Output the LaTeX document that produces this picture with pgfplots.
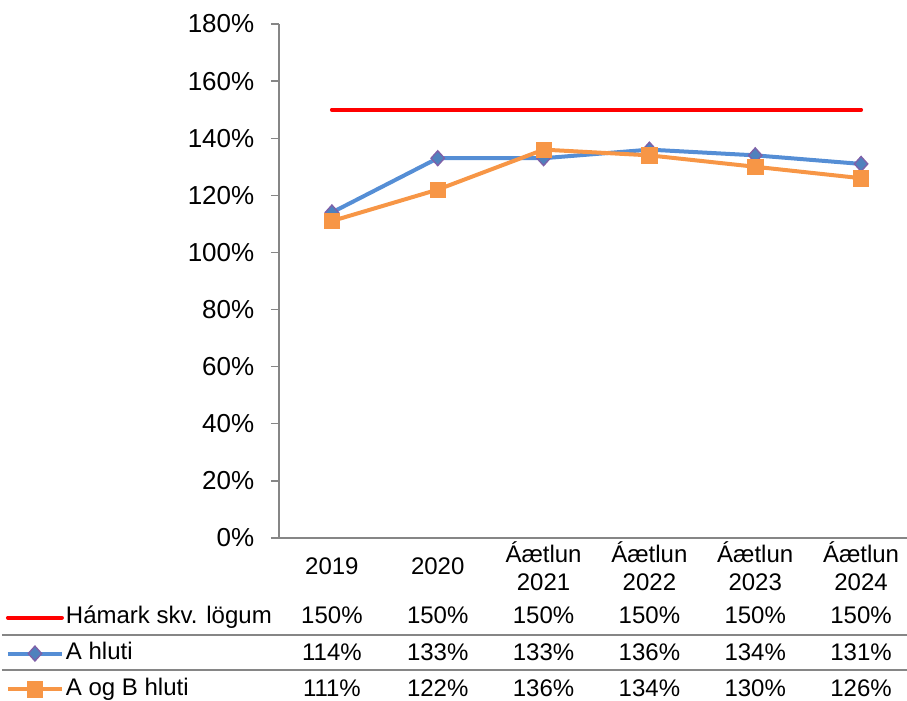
\documentclass[border=0pt]{standalone}
\usepackage{pgfplots}
\pgfplotsset{compat=1.18}
\usepackage{pgfplotstable}
\usepackage{fontspec}
\setmainfont{Liberation Sans}
\definecolor{cred}{HTML}{FF0000}
\definecolor{cblue}{HTML}{558ED5}
\definecolor{cbluefill}{HTML}{4F81BD}
\definecolor{cpurple}{HTML}{7F60A8}
\definecolor{corange}{HTML}{F79646}
\definecolor{caxis}{HTML}{868686}

\pgfplotstableread{
x hamark ahluti aogb
0 150 114 111
1 150 133 122
2 150 133 136
3 150 136 134
4 150 134 130
5 150 131 126
}\data

\newcommand{\chfont}{\fontsize{18pt}{21pt}\selectfont}
\newcommand{\yfont}{\fontsize{19.5pt}{22pt}\selectfont}

\begin{document}
\begin{tikzpicture}
\begin{axis}[
 name=ax, at={(0,0)}, anchor=south west,
 scale only axis, width=476.25pt, height=385.5pt,
 xmin=-0.5, xmax=5.5, ymin=0, ymax=180,
 axis x line*=bottom, axis y line*=left,
 axis line style={caxis, line width=1pt, -},
 clip=false,
 ytick={0,20,...,180},
 yticklabel={\pgfmathprintnumber[fixed,precision=0]{\tick}\%},
 /pgf/number format/assume math mode=true,
 tick align=outside, major tick length=6pt,
 ytick style={caxis, line width=1pt},
 xtick={0,...,5},
 xticklabels={2019,2020,Áætlun\\2021,Áætlun\\2022,Áætlun\\2023,Áætlun\\2024},
 xtick style={draw=none},
 xticklabel style={align=center, anchor=center, yshift=-15.5pt, font=\chfont},
 yticklabel style={font=\yfont, xshift=-9pt},
 legend style={draw=none, fill=none, inner sep=0pt, outer sep=0pt,
   at={(axis description cs:-0.4300,-0.2248)}, anchor=west,
   font=\chfont, nodes={inner sep=0pt, text height=12.6pt, text depth=3.5pt},
   row sep=10.8pt, column sep=1.5pt},
 legend cell align=left,
 legend image code/.code={\draw[mark repeat=2,mark phase=2,#1] plot coordinates {(0pt,0pt) (20.25pt,0pt) (40.5pt,0pt)};},
 every node near coord/.append style={anchor=center, font=\chfont, inner sep=0pt, text=black},
]
\addplot[cred, line width=3pt, line cap=round, mark=none] table[x=x, y=hamark] {\data};
\addlegendentry{Hámark skv. lögum}
\addplot[cblue, line width=3pt, mark=diamond*, mark size=5.6pt,
  mark options={fill=cbluefill, draw=cpurple, line width=1pt, xscale=1.2}] table[x=x, y=ahluti] {\data};
\addlegendentry{A hluti}
\addplot[corange, line width=3pt, mark=square*, mark size=5.8pt,
  mark options={fill=corange, draw=corange, line width=0.5pt}] table[x=x, y=aogb] {\data};
\addlegendentry{A og B hluti}

\addplot[draw=none, mark=none, forget plot, point meta=explicit,
  nodes near coords={\pgfmathprintnumber[fixed,precision=0]{\pgfplotspointmeta}\%}]
  table[x=x, y expr=-26.96, meta=hamark] {\data};
\addplot[draw=none, mark=none, forget plot, point meta=explicit,
  nodes near coords={\pgfmathprintnumber[fixed,precision=0]{\pgfplotspointmeta}\%}]
  table[x=x, y expr=-39.92, meta=ahluti] {\data};
\addplot[draw=none, mark=none, forget plot, point meta=explicit,
  nodes near coords={\pgfmathprintnumber[fixed,precision=0]{\pgfplotspointmeta}\%}]
  table[x=x, y expr=-52.53, meta=aogb] {\data};
\end{axis}
\draw[caxis, line width=1pt] (-207.75pt,-72.75pt) -- (471pt,-72.75pt);
\draw[caxis, line width=1pt] (-207.75pt,-99pt) -- (471pt,-99pt);
\pgfresetboundingbox
\path[use as bounding box] (-209.25pt,-121.5pt) rectangle (471pt,403.5pt);
\end{tikzpicture}
\end{document}
